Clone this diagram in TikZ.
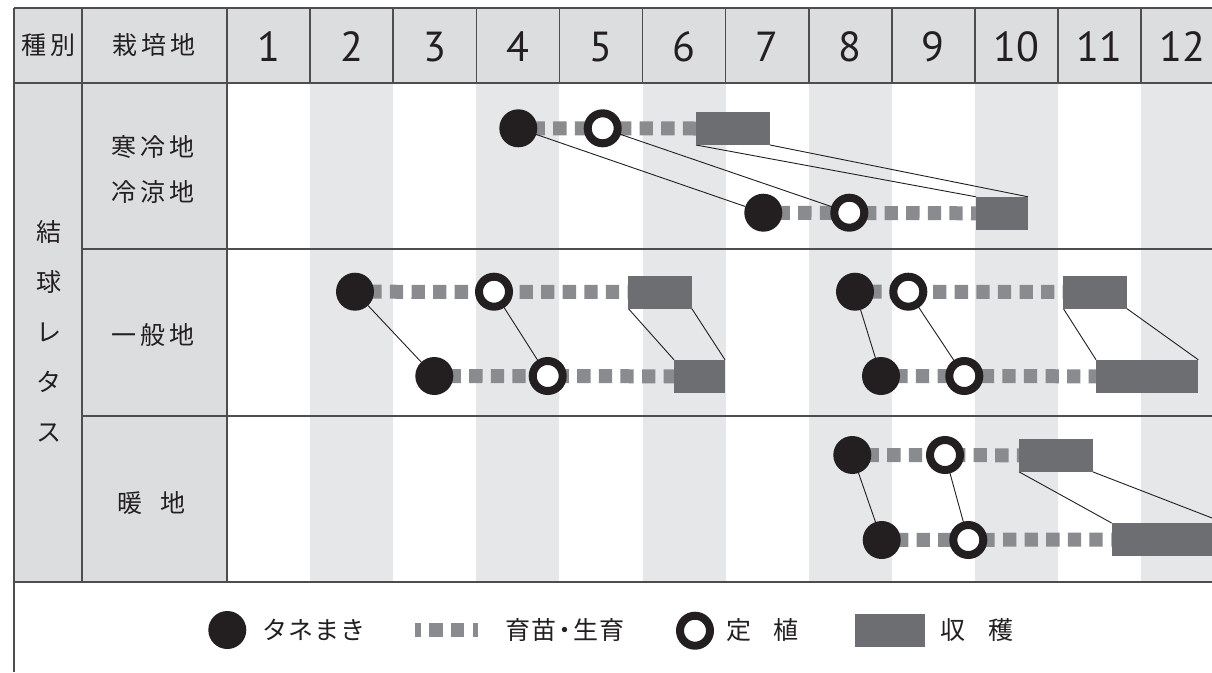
\documentclass[tikz,border=0pt]{standalone}
\usepackage{fontspec}
\setmainfont{Noto Sans CJK JP}
\newfontfamily\digitfont{PT Sans}
\definecolor{ink}{HTML}{231F20}
\definecolor{rulec}{HTML}{4D4D4F}
\definecolor{headfill}{HTML}{DCDDDF}
\definecolor{stripe}{HTML}{E6E7E8}
\definecolor{growc}{HTML}{8A8B8E}
\definecolor{harvc}{HTML}{6D6E71}
\pgfdeclarelayer{tablelayer}
\pgfdeclarelayer{linklayer}
\pgfsetlayers{tablelayer,linklayer,main}
\begin{document}
\begin{tikzpicture}[x=1pt,y=-1pt,
  sow/.style={circle, fill=ink, minimum size=38pt, inner sep=0pt, outer sep=0pt},
  plant/.style={circle, draw=ink, line width=8pt, fill=white, minimum size=30pt, inner sep=0pt, outer sep=0pt},
  harv/.style={rectangle, fill=harvc, inner sep=0pt, outer sep=0pt, minimum height=33pt},
  growline/.style={draw=growc, line width=14pt, dash pattern=on 13.3pt off 8.3pt, dash phase=8.3pt},
  link/.style={draw=ink, line width=0.9pt},
  rl/.style={draw=rulec, line width=1.6pt},
  lbl/.style={font=\fontsize{25}{30}\selectfont, text=ink, inner sep=0pt},
  num/.style={font=\digitfont\fontsize{42}{50}\selectfont, text=ink, inner sep=0pt}]
\useasboundingbox (0,0) rectangle (1212,672);
\clip (0,0) rectangle (1212,672);

\begin{pgfonlayer}{tablelayer}
  \clip (0,0) rectangle (1212,672);
  \fill[white] (0,0) rectangle (1212,672);
  \fill[headfill] (14,8) rectangle (1212,83);
  \fill[headfill] (14,83) rectangle (227,582);
  \foreach \k in {2,4,...,12} {\fill[stripe] ({227+(\k-1)*83.1},83) rectangle ({227+\k*83.1},582);}
  \draw[rl] (14,8) -- (1212,8);
  \draw[rl] (14,8) -- (14,672);
  \draw[rl] (14,83) -- (1212,83);
  \draw[rl] (82,8) -- (82,582);
  \draw[rl] (227,8) -- (227,582);
  \draw[rl] (82,249) -- (1212,249);
  \draw[rl] (82,416) -- (1212,416);
  \draw[rl] (14,582) -- (1212,582);
  \foreach \k in {1,...,11} {\draw[rl] ({227+\k*83.1},8) -- ({227+\k*83.1},83);}
\end{pgfonlayer}

% header
\node[lbl] (hkind) at (48,45) {種\kern4pt 別};
\node[lbl] (hplace) at (153.5,45) {栽\kern4pt 培\kern4pt 地};
\foreach \k in {1,...,12} {\node[num] (m\k) at ({227+(\k-0.5)*83.1},47) {\k};}

% left labels
\node[lbl, align=center, font=\fontsize{25}{50}\selectfont] (kind) at (49.3,331.7) {結\\球\\レ\\タ\\ス};
\node[lbl, align=center, font=\fontsize{25}{45}\selectfont] (cold) at (152.5,169.2) {寒\kern4pt 冷\kern4pt 地\\冷\kern4pt 涼\kern4pt 地};
\node[lbl] (gen) at (153,335) {一\kern4pt 般\kern4pt 地};
\node[lbl] (warm) at (151.7,503.3) {暖\kern18pt 地};

% schedule nodes
\node[sow] (s1a) at (518.3,128.3) {};
\node[plant] (p1a) at (602.7,128.3) {};
\node[harv, minimum width=74pt] (h1a) at (733,128.5) {};
\node[sow] (s1b) at (763.3,212.7) {};
\node[plant] (p1b) at (849.3,212.7) {};
\node[harv, minimum width=52pt] (h1b) at (1002,213.3) {};

\node[sow] (s2a) at (355,291.7) {};
\node[plant] (p2a) at (494,291.7) {};
\node[harv, minimum width=63.4pt] (h2a) at (660,292) {};
\node[sow] (s2b) at (434.3,376) {};
\node[plant] (p2b) at (547.7,376) {};
\node[harv, minimum width=51pt] (h2b) at (699.5,376.3) {};

\node[sow] (s3a) at (855,291.7) {};
\node[plant] (p3a) at (908.3,291.7) {};
\node[harv, minimum width=63.4pt] (h3a) at (1095,292) {};
\node[sow] (s3b) at (881,376) {};
\node[plant] (p3b) at (964.3,376) {};
\node[harv, minimum width=102.3pt] (h3b) at (1147.2,376.3) {};

\node[sow] (s4a) at (852.3,455) {};
\node[plant] (p4a) at (945,455) {};
\node[harv, minimum width=73.7pt] (h4a) at (1055.8,455.3) {};
\node[sow] (s4b) at (881.7,540) {};
\node[plant] (p4b) at (968.3,540) {};
\node[harv, minimum width=113.3pt] (h4b) at (1168.3,539.5) {};

% legend
\node[sow] (lsow) at (227.3,630) {};
\node[lbl] (ltxt1) at (314,630) {タ\kern1pt ネ\kern1pt ま\kern1pt き};
\node[lbl] (ltxt2) at (565,630) {育\kern1pt 苗\kern-4pt ・\kern-4pt 生\kern1pt 育};
\node[plant] (lplant) at (695,630.7) {};
\node[lbl] (ltxt3) at (762.5,630) {定\kern22pt 植};
\node[harv, minimum width=70pt, minimum height=32.7pt] (lharv) at (890,630.3) {};
\node[lbl] (ltxt4) at (976.5,630) {収\kern23pt 穫};

\begin{pgfonlayer}{linklayer}
  \clip (0,0) rectangle (1212,672);
  \fill[growc] (415,623.3) rectangle (421,637.3);
  \fill[growc] (429.3,623.3) rectangle (442.7,637.3);
  \fill[growc] (451,623.3) rectangle (464.3,637.3);
  \fill[growc] (472.7,623.3) rectangle (478.3,637.3);
  \foreach \r in {1,2,3,4} {
    \draw[growline] (s\r a.center) -- (h\r a.west);
    \draw[growline] (s\r b.center) -- (h\r b.west);
    \draw[link] (s\r a) -- (s\r b);
    \draw[link] (p\r a) -- (p\r b);
    \draw[link] (h\r a.south west) -- (h\r b.north west);
    \draw[link] (h\r a.south east) -- (h\r b.north east);
  }
\end{pgfonlayer}
\end{tikzpicture}
\end{document}
